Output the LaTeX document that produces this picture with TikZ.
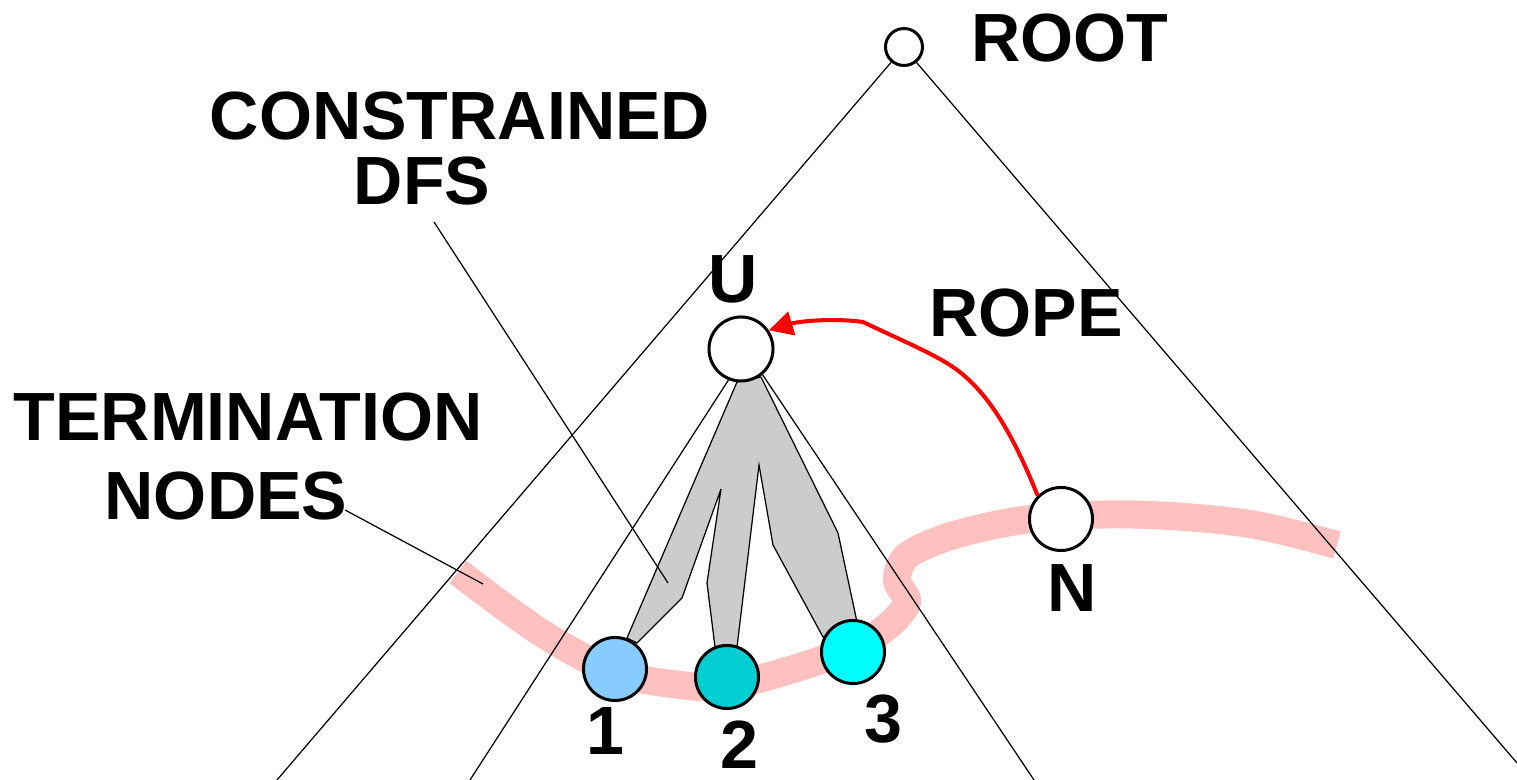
\documentclass[tikz,border=0pt]{standalone}
\usepackage{fontspec}
\setmainfont{Liberation Sans}
\usetikzlibrary{arrows.meta,backgrounds}
\definecolor{bandpink}{RGB}{255,192,192}
\definecolor{tone}{RGB}{136,204,255}
\definecolor{ttwo}{RGB}{0,206,209}
\definecolor{tthree}{RGB}{0,255,255}
\definecolor{dfsgray}{RGB}{204,204,204}
\definecolor{ropered}{RGB}{255,0,0}
\begin{document}
\begin{tikzpicture}[x=0.01cm,y=-0.01cm,
  lbl/.style={font=\fontsize{19.4}{22}\selectfont\bfseries, inner sep=0pt},
  treenode/.style={circle, draw=black, fill=white, line width=0.85pt, inner sep=0pt},
  termnode/.style={circle, draw=black, line width=0.85pt, inner sep=0pt, minimum size=0.63cm},
  edgeline/.style={draw=black, line width=0.35pt},
  bandline/.style={draw=bandpink, line width=0.28cm, line cap=butt},
  dfsshape/.style={fill=dfsgray, draw=black, line width=0.35pt, line join=miter},
  ropeline/.style={draw=ropered, line width=1.15pt, -{Triangle[length=0.24cm,width=0.24cm]}}]
\useasboundingbox (0,0) rectangle (1517,780);

% tree nodes
\node[treenode, minimum size=0.37cm] (root) at (904,47) {};
\node[treenode, minimum size=0.64cm] (U) at (741,349) {};
\node[treenode, minimum size=0.63cm] (N) at (1061,519) {};
\node[termnode, fill=tone] (t1) at (615,669) {};
\node[termnode, fill=ttwo] (t2) at (727,677) {};
\node[termnode, fill=tthree] (t3) at (853,652) {};

% labels
\node[lbl] (lroot) at (1070,38) {ROOT};
\node[lbl] (lcons) at (460,116) {CONSTRAINED};
\node[lbl] (ldfs) at (422,181) {DFS};
\node[lbl] (lU) at (733,279) {U};
\node[lbl] (lrope) at (1026,313) {ROPE};
\node[lbl] (lterm) at (248,417) {TERMINATION};
\node[lbl] (lnodes) at (226,496) {NODES};
\node[lbl] (lN) at (1072,588) {N};
\node[lbl] (l1) at (605,731) {1};
\node[lbl] (l2) at (739,745) {2};
\node[lbl] (l3) at (883,719) {3};

% free ends
\coordinate (rootL) at (277,780);
\coordinate (rootR) at (1517,763);
\coordinate (uL) at (470,780);
\coordinate (uR) at (1034,780);
\coordinate (consA) at (434,222);
\coordinate (consB) at (668,583);
\coordinate (termA) at (345,510);
\coordinate (termB) at (483,584);

\begin{pgfonlayer}{background}
  % termination band
  \draw[bandline] plot[smooth, tension=0.55] coordinates {(458,572) (540,632) (615,672) (680,685) (727,686) (790,670) (853,648) (888,626) (907,602) (897,580) (907,556) (945,538) (1000,524) (1061,516) (1150,515) (1250,524) (1337,545)};
  % constrained DFS shape
  \path[dfsshape] (737,382) -- (627,638) -- (637,643) -- (682,598) -- (721,489) -- (707,583) -- (715,647) -- (737,647) -- (759,465) -- (773,545) -- (823,637) -- (857,622) -- (838,533) -- (761,377) -- cycle;
  % tree edges
  \draw[edgeline] (root.230) -- (rootL);
  \draw[edgeline] (root.309) -- (rootR);
  \draw[edgeline] (U.248) -- (uL);
  \draw[edgeline] (U.310) -- (uR);
  % label pointers
  \draw[edgeline] (consA) -- (consB);
  \draw[edgeline] (termA) -- (termB);
\end{pgfonlayer}

% rope
\draw[ropeline] (N.135) .. controls (1012,432) and (985,385) .. (945,362)
  .. controls (925,350) and (890,335) .. (863,322)
  .. controls (835,318) and (800,321) .. (U.34);
\end{tikzpicture}
\end{document}
